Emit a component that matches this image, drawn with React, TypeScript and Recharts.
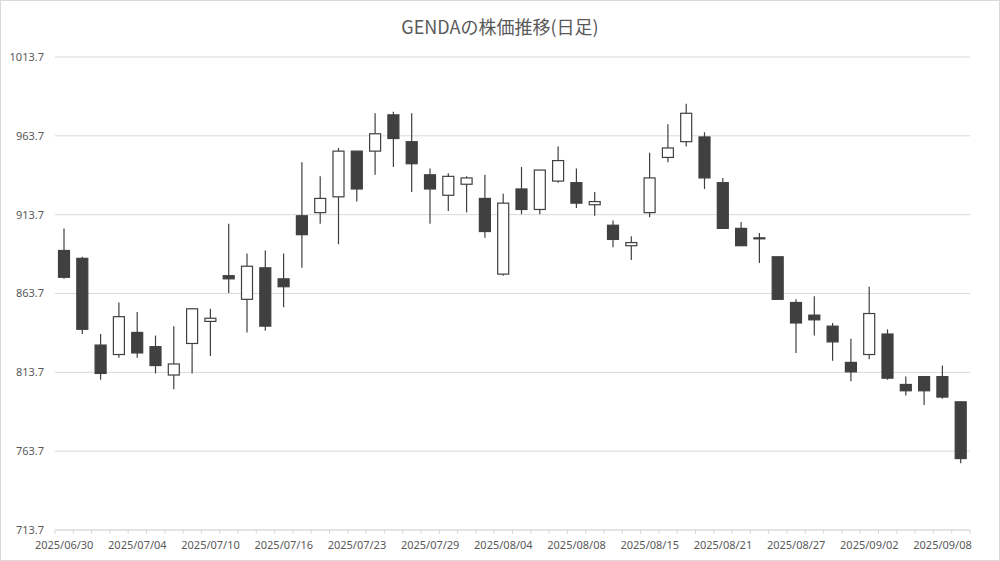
import { ComposedChart, Bar, XAxis, YAxis, CartesianGrid } from 'recharts';

// GENDA 日足 (2025/06/30 - 2025/09/09)
const dates = [
  '2025/06/30', '2025/07/01', '2025/07/02', '2025/07/03', '2025/07/04',
  '2025/07/07', '2025/07/08', '2025/07/09', '2025/07/10', '2025/07/11',
  '2025/07/14', '2025/07/15', '2025/07/16', '2025/07/17', '2025/07/18',
  '2025/07/22', '2025/07/23', '2025/07/24', '2025/07/25', '2025/07/28',
  '2025/07/29', '2025/07/30', '2025/07/31', '2025/08/01', '2025/08/04',
  '2025/08/05', '2025/08/06', '2025/08/07', '2025/08/08', '2025/08/12',
  '2025/08/13', '2025/08/14', '2025/08/15', '2025/08/18', '2025/08/19',
  '2025/08/20', '2025/08/21', '2025/08/22', '2025/08/25', '2025/08/26',
  '2025/08/27', '2025/08/28', '2025/08/29', '2025/09/01', '2025/09/02',
  '2025/09/03', '2025/09/04', '2025/09/05', '2025/09/08', '2025/09/09',
];
const opens = [
  891, 886, 831, 825, 839, 830, 812, 832, 846, 875,
  860, 880, 873, 913, 915, 925, 954, 954, 977, 960,
  939, 926, 933, 924, 876, 930, 917, 935, 934, 920,
  907, 894, 915, 950, 960, 963, 934, 905, 899, 887,
  858, 850, 843, 820, 825, 838, 806, 811, 811, 795,
];
const highs = [
  905, 887, 838, 858, 852, 837, 843, 854, 854, 908,
  889, 891, 889, 947, 938, 956, 954, 978, 979, 978,
  943, 940, 938, 939, 927, 944, 942, 957, 943, 928,
  910, 900, 953, 971, 984, 966, 937, 909, 902, 887,
  860, 862, 845, 835, 868, 841, 811, 811, 818, 795,
];
const lows = [
  873, 838, 809, 823, 823, 813, 803, 813, 824, 864,
  839, 840, 855, 880, 908, 895, 922, 939, 944, 928,
  908, 916, 915, 899, 875, 914, 914, 934, 918, 913,
  893, 885, 912, 947, 957, 930, 905, 894, 883, 860,
  826, 837, 821, 808, 822, 809, 799, 793, 797, 756,
];
const closes = [
  874, 841, 813, 849, 826, 818, 819, 854, 848, 873,
  881, 843, 868, 901, 924, 954, 930, 965, 962, 946,
  930, 938, 937, 903, 921, 917, 942, 948, 921, 922,
  898, 896, 937, 956, 978, 937, 905, 894, 899, 860,
  845, 847, 833, 814, 851, 810, 802, 802, 798, 759,
];
const yTicks = [713.7, 763.7, 813.7, 863.7, 913.7, 963.7, 1013.7];

const data = dates.map((date, i) => ({
  date,
  open: opens[i],
  high: highs[i],
  low: lows[i],
  close: closes[i],
}));

const INK = '#404040';
const TEXT = '#595959';
const GRID = '#d9d9d9';
const PLOT_W = 915;
const BAND = PLOT_W / dates.length;

function Candle(props: any) {
  const { x, y, width, height, payload } = props;
  if (!payload) return null;
  const top = Math.min(y, y + height);
  const h = Math.abs(height);
  const { open, close, high, low } = payload;
  const range = high - low || 1;
  const toY = (v: number) => top + ((high - v) / range) * h;
  const bodyTop = toY(Math.max(open, close));
  const bodyBottom = toY(Math.min(open, close));
  const cx = x + width / 2;
  const up = close > open;
  return (
    <g>
      <line x1={cx} x2={cx} y1={top} y2={top + h} stroke={INK} strokeWidth={1.2} />
      <rect
        x={x + 0.5}
        y={bodyTop}
        width={width - 1}
        height={Math.max(1, bodyBottom - bodyTop)}
        fill={up ? '#ffffff' : INK}
        stroke={INK}
        strokeWidth={1.2}
      />
    </g>
  );
}

function DateTick(props: any) {
  const { x, y, index, payload } = props;
  const half = BAND / 2;
  return (
    <g>
      <line x1={x - half} x2={x - half} y1={y} y2={y + 4} stroke={GRID} />
      {index === dates.length - 1 && (
        <line x1={x + half} x2={x + half} y1={y} y2={y + 4} stroke={GRID} />
      )}
      {index % 4 === 0 && (
        <text x={x} y={y + 11.5} dy="0.71em" textAnchor="middle" fill={TEXT} fontSize={11} fontFamily="Noto Sans">
          {payload.value}
        </text>
      )}
    </g>
  );
}

export default function App() {
  return (
    <div
      style={{
        position: 'absolute',
        left: 0,
        top: 0,
        width: 1000,
        height: 561,
        boxSizing: 'border-box',
        border: `1px solid ${GRID}`,
        background: '#fff',
      }}
    >
      <div
        style={{
          position: 'absolute',
          top: 14,
          left: 0,
          width: 998,
          height: 22,
          lineHeight: '22px',
          textAlign: 'center',
          fontSize: 18,
          color: TEXT,
          fontFamily: '"Noto Sans CJK JP", "Noto Sans", sans-serif',
        }}
      >
        GENDAの株価推移(日足)
      </div>
      <ComposedChart
        width={998}
        height={559}
        data={data}
        margin={{ top: 56, right: 29, bottom: 0, left: 0 }}
      >
        <CartesianGrid vertical={false} stroke={GRID} />
        <XAxis
          dataKey="date"
          interval={0}
          height={30}
          tickSize={0}
          tickMargin={0}
          tick={<DateTick />}
          axisLine={{ stroke: GRID }}
          tickLine={false}
        />
        <YAxis
          domain={[713.7, 1013.7]}
          ticks={yTicks}
          width={54}
          tickSize={0}
          tickMargin={11}
          axisLine={false}
          tickLine={false}
          tickFormatter={(v: number) => v.toFixed(1)}
          tick={{ fill: TEXT, fontSize: 11, fontFamily: 'Noto Sans' }}
          allowDataOverflow
        />
        <Bar
          dataKey={(d: any) => [d.low, d.high]}
          barSize={12}
          shape={<Candle />}
          isAnimationActive={false}
        />
      </ComposedChart>
    </div>
  );
}
